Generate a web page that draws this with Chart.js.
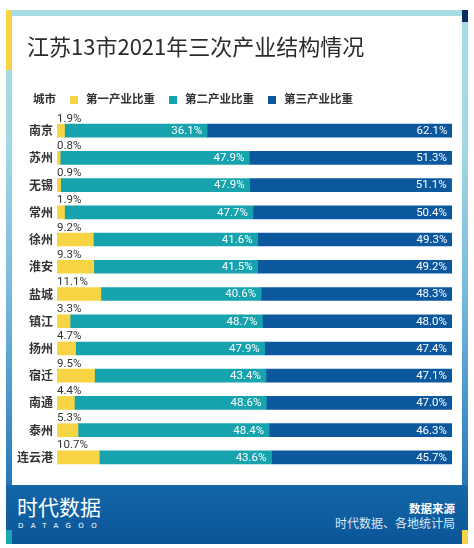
<!DOCTYPE html>
<html lang="zh">
<head>
<meta charset="utf-8">
<script src="https://cdn.jsdelivr.net/npm/chart.js@4.4.1/dist/chart.umd.min.js"></script>
<style>
  body { margin: 0; width: 474px; height: 548px; background: #fff; position: relative; overflow: hidden;
         font-family: "Noto Sans CJK SC", "Noto Sans", sans-serif; }
  .frame { position: absolute; left: 6px; top: 10px; width: 462px; height: 534px;
           background: linear-gradient(to bottom, #a8dce5 0%, #a3d8e4 25%, #74b7dc 55%, #2f7fc0 85%, #0f5ea3 100%); }
  .panel { position: absolute; left: 6px; top: 6px; width: 450px; height: 469px; background: #fff; }
  .strip-y { position: absolute; left: 0; top: 0; width: 6px; height: 60px; background: #f8d548; }
  .strip-n { position: absolute; left: 456px; top: 0; width: 6px; height: 12px; background: #0d2b5c; }
  .footer { position: absolute; left: 0; top: 475px; width: 462px; height: 59px;
            background: linear-gradient(to bottom, #1467a9, #0b5598); color: #fff; }
  .foot-t { position: absolute; left: 0; bottom: 0; width: 6px; height: 14px; background: #1aa6b2; }
  .foot-y { position: absolute; right: 0; bottom: 0; width: 6px; height: 14px; background: #f8d548; }
  .logo { position: absolute; left: 11px; top: 9px; font-size: 21px; line-height: 24px; letter-spacing: 0; }
  .logo-sub { position: absolute; left: 12px; top: 37px; font-size: 7px; letter-spacing: 7.4px; font-family: "DejaVu Sans", sans-serif; }
  .src1 { position: absolute; right: 13px; top: 15px; font-size: 11.5px; font-weight: bold; }
  .src2 { position: absolute; right: 13px; top: 29px; font-size: 12px; color: #dce9f6; }
  .title { position: absolute; left: 15px; top: 14px; font-size: 22px; color: #2b2b2b; line-height: 30px; }
  .legend { position: absolute; left: 21px; top: 74px; display: flex; align-items: center; gap: 14px;
            font-size: 11.5px; font-weight: bold; color: #333; line-height: 16px; }
  .legend span.box { display: inline-block; width: 8px; height: 8px; margin-right: 8px; vertical-align: middle; }
  #chart { position: absolute; left: 0; top: 0; }
</style>
</head>
<body>
<div class="frame">
  <div class="strip-y"></div>
  <div class="strip-n"></div>
  <div class="panel">
    <canvas id="chart" width="450" height="469"></canvas>
    <div class="title">江苏13市2021年三次产业结构情况</div>
    <div class="legend" id="legend"></div>
  </div>
  <div class="footer">
    <div class="logo">时代数据</div>
    <div class="logo-sub">DATAGOO</div>
    <div class="src1">数据来源</div>
    <div class="src2">时代数据、各地统计局</div>
    <div class="foot-t"></div>
    <div class="foot-y"></div>
  </div>
</div>
<script>
const cities = ['南京', '苏州', '无锡', '常州', '徐州', '淮安', '盐城', '镇江', '扬州', '宿迁', '南通', '泰州', '连云港'];
const primary = [1.9, 0.8, 0.9, 1.9, 9.2, 9.3, 11.1, 3.3, 4.7, 9.5, 4.4, 5.3, 10.7];
const secondary = [36.1, 47.9, 47.9, 47.7, 41.6, 41.5, 40.6, 48.7, 47.9, 43.4, 48.6, 48.4, 43.6];
const tertiary = [62.1, 51.3, 51.1, 50.4, 49.3, 49.2, 48.3, 48.0, 47.4, 47.1, 47.0, 46.3, 45.7];
const seriesNames = ['第一产业比重', '第二产业比重', '第三产业比重'];
const colors = ['#f7d443', '#17a3ae', '#0c589f'];

// labels on the bars
const barLabels = {
    id: 'barLabels',
    afterDatasetsDraw(chart) {
        const ctx = chart.ctx;
        ctx.save();
        ctx.font = '11.5px Roboto';
        chart.data.datasets.forEach((ds, di) => {
            chart.getDatasetMeta(di).data.forEach((bar, i) => {
                const txt = ds.data[i].toFixed(1) + '%';
                const p = bar.getProps(['x', 'y', 'base', 'height'], true);
                if (di === 0) {
                    ctx.fillStyle = '#333';
                    ctx.textAlign = 'left';
                    ctx.textBaseline = 'alphabetic';
                    ctx.fillText(txt, p.base, p.y - p.height / 2 - 2.5);
                } else {
                    ctx.fillStyle = '#fff';
                    ctx.textAlign = 'right';
                    ctx.textBaseline = 'middle';
                    ctx.fillText(txt, p.x - 5, p.y + 0.5);
                }
            });
        });
        ctx.restore();
    }
};

const chart = new Chart(document.getElementById('chart'), {
    type: 'bar',
    data: {
        labels: cities,
        datasets: [primary, secondary, tertiary].map((d, i) => ({
            label: seriesNames[i],
            data: d,
            backgroundColor: colors[i],
            borderWidth: 0,
            barThickness: 13
        }))
    },
    options: {
        indexAxis: 'y',
        responsive: false,
        animation: false,
        layout: { padding: { top: 101, bottom: 14, left: 4, right: 10 } },
        plugins: {
            legend: { display: false },
            tooltip: { enabled: false }
        },
        scales: {
            x: { stacked: true, min: 0, max: 100, display: false },
            y: {
                stacked: true,
                grid: { display: false, drawTicks: false },
                border: { display: false },
                afterFit: s => { s.width = 41; },
                ticks: {
                    padding: 4,
                    color: '#333',
                    font: { family: 'Noto Sans CJK SC', size: 12, weight: 'bold' }
                }
            }
        }
    },
    plugins: [barLabels]
});

// legend built from the datasets
const legend = document.getElementById('legend');
legend.innerHTML = '<div>城市</div>' + chart.data.datasets.map(ds =>
    `<div><span class="box" style="background:${ds.backgroundColor}"></span>${ds.label}</div>`
).join('');
</script>
</body>
</html>
